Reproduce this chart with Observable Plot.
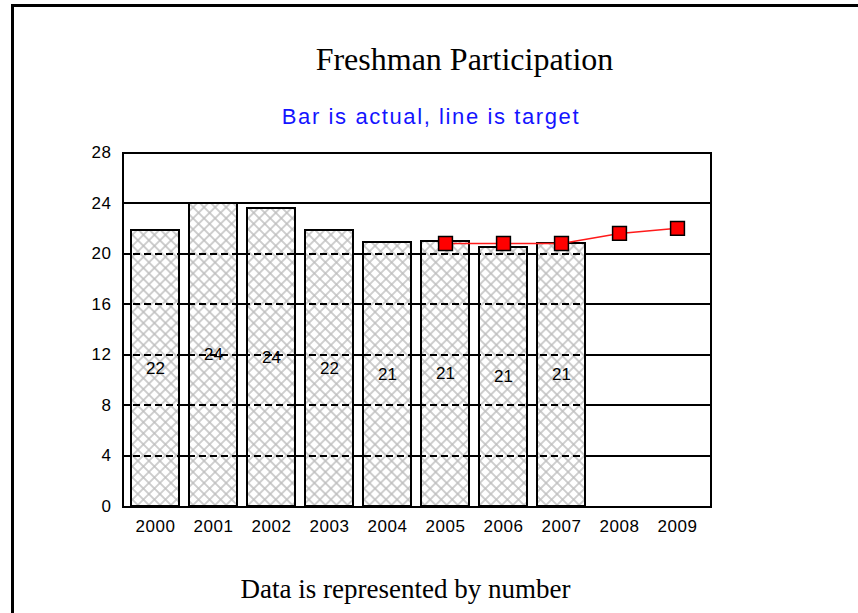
<!DOCTYPE html>
<html>
<head>
<meta charset="utf-8">
<script src="https://cdn.jsdelivr.net/npm/d3@7"></script>
<script src="https://cdn.jsdelivr.net/npm/@observablehq/plot@0.6"></script>
<style>
  html, body { margin: 0; padding: 0; background: #fff; }
  #page { position: relative; width: 858px; height: 613px; overflow: hidden; background: #fff; }
  #border { position: absolute; left: 11px; top: 4px; width: 900px; height: 700px;
            border-left: 3px solid #000; border-top: 3px solid #000; }
  .t { position: absolute; white-space: nowrap; text-align: center; line-height: 1; }
  #title { left: 0; width: 929px; top: 41px; font: 32px "Liberation Serif", "Times New Roman", serif; color: #000; }
  #subtitle { left: 0; width: 862px; top: 104px; font: 22px "Liberation Sans", Arial, sans-serif; letter-spacing: 1.6px; color: #1414ff; }
  #caption { left: 0; width: 811px; top: 574px; font: 27px "Liberation Serif", "Times New Roman", serif; color: #000; }
  #chart { position: absolute; left: 0; top: 130px; }
</style>
</head>
<body>
<div id="page">
  <div id="border"></div>
  <div class="t" id="title">Freshman Participation</div>
  <div class="t" id="subtitle">Bar is actual, line is target</div>
  <div id="chart"></div>
  <div class="t" id="caption">Data is represented by number</div>
</div>
<script>
const years = ["2000","2001","2002","2003","2004","2005","2006","2007","2008","2009"];
const actualYears = ["2000","2001","2002","2003","2004","2005","2006","2007"];
const actualValues = [21.8, 24.0, 23.6, 21.8, 20.9, 21.0, 20.5, 20.8];
const actualLabels = ["22","24","24","22","21","21","21","21"];
const targetYears = ["2005","2006","2007","2008","2009"];
const targetValues = [20.8, 20.8, 20.8, 21.6, 22.0];
const yTicks = [0, 4, 8, 12, 16, 20, 24, 28];
const gridValues = [4, 8, 12, 16, 20, 24];

const actual = actualYears.map((y, i) => ({year: y, value: actualValues[i], label: actualLabels[i]}));
const target = targetYears.map((y, i) => ({year: y, value: targetValues[i]}));

const svg = Plot.plot({
  width: 858,
  height: 420,
  marginLeft: 122,
  marginRight: 148,
  marginTop: 22,
  marginBottom: 44,
  style: {fontFamily: "'Liberation Sans', Arial, sans-serif", fontSize: "17px", color: "#000", background: "transparent", overflow: "visible"},
  x: {type: "band", domain: years, paddingInner: 0.17, paddingOuter: 0.085, label: null, tickSize: 0, tickPadding: 13},
  y: {domain: [0, 28], ticks: yTicks, label: null, tickSize: 0, tickPadding: 11},
  marks: [
    Plot.ruleY(gridValues, {stroke: "#000", strokeWidth: 2, shapeRendering: "crispEdges"}),
    Plot.barY(actual, {x: "year", y: "value", fill: "url(#hatch)", stroke: "#000", strokeWidth: 2, shapeRendering: "crispEdges"}),
    Plot.ruleY(gridValues, {stroke: "#000", strokeWidth: 2, strokeDasharray: "7,4", shapeRendering: "crispEdges"}),
    Plot.text(actual, {x: "year", y: d => d.value / 2, text: "label", fill: "#000", fontSize: 17}),
    Plot.line(target, {x: "year", y: "value", stroke: "#ff1a1a", strokeWidth: 1.5}),
    Plot.dot(target, {x: "year", y: "value", symbol: "square", r: 7.8, fill: "#ff0000", stroke: "#000", strokeWidth: 1.5}),
    Plot.frame({stroke: "#000", strokeWidth: 2, shapeRendering: "crispEdges"})
  ]
});

const defs = d3.select(svg).insert("defs", ":first-child");
const pat = defs.append("pattern")
  .attr("id", "hatch")
  .attr("patternUnits", "userSpaceOnUse")
  .attr("width", 7.8)
  .attr("height", 7.8)
  .attr("patternTransform", "rotate(45)");
pat.append("rect").attr("width", 7.8).attr("height", 7.8).attr("fill", "#fff");
pat.append("path").attr("d", "M0,3.9H7.8M3.9,0V7.8").attr("stroke", "#bdbdbd").attr("stroke-width", 1.4).attr("fill", "none");

d3.select(svg).selectAll("g[aria-label='x-axis tick label'] text, g[aria-label='y-axis tick label'] text").style("letter-spacing", "0.5px");

document.getElementById("chart").appendChild(svg);
</script>
</body>
</html>
